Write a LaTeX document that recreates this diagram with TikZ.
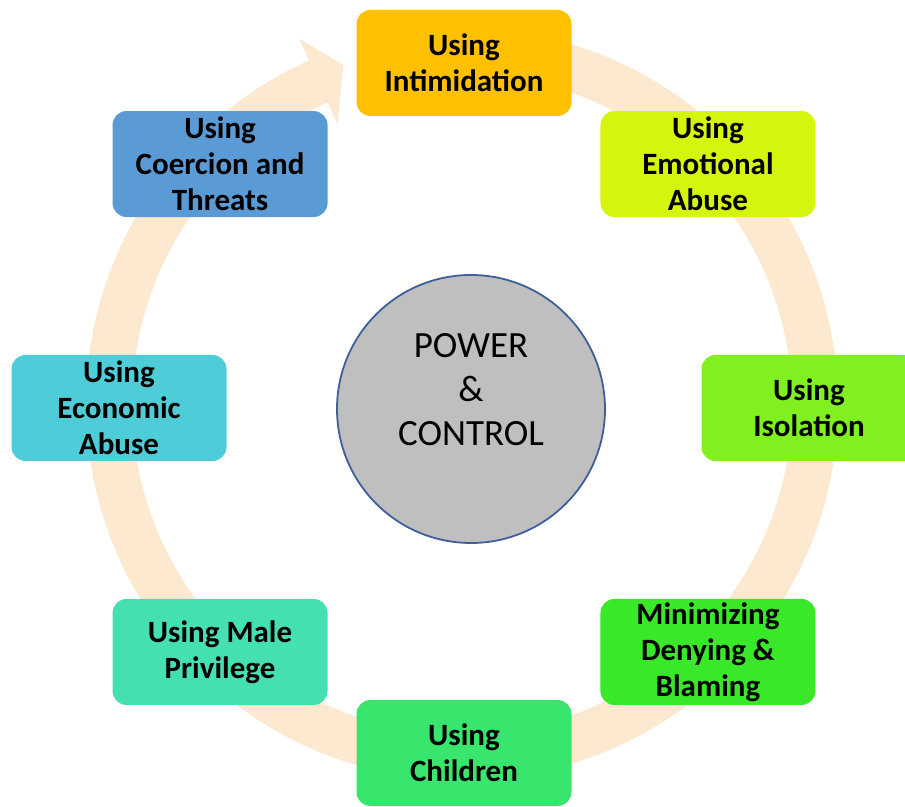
\documentclass[tikz,border=0pt]{standalone}
\usepackage{fontspec}
\setmainfont{Carlito}
\usetikzlibrary{calc}
\definecolor{ringpeach}{RGB}{253,232,208}
\definecolor{coregray}{RGB}{191,191,191}
\definecolor{coreblue}{RGB}{63,95,154}
\definecolor{cIntim}{RGB}{255,192,0}
\definecolor{cEmot}{RGB}{214,245,13}
\definecolor{cIsol}{RGB}{128,240,32}
\definecolor{cMinim}{RGB}{58,232,42}
\definecolor{cChild}{RGB}{56,230,110}
\definecolor{cMale}{RGB}{69,224,178}
\definecolor{cEcon}{RGB}{78,205,217}
\definecolor{cCoerc}{RGB}{91,155,213}

\begin{document}
\begin{tikzpicture}[x=1pt, y=1pt,
  box/.style={rectangle, rounded corners=14pt, minimum width=215pt, minimum height=106pt, inner sep=2pt, align=center, font=\bfseries\fontsize{31}{36}\selectfont},
  core/.style={circle, draw=coreblue, line width=1.8pt, fill=coregray, minimum size=268pt, inner sep=0pt, font=\fontsize{37}{44}\selectfont}
]
\useasboundingbox (0,0) rectangle (905,806);
\coordinate (o) at (464,398);
\coordinate (rc) at (462,402);
% cycle arrow behind the boxes
\fill[ringpeach] ($(rc)+(95:376pt)$) arc[start angle=95, end angle=-246, radius=376pt]
  -- ($(rc)+(-246:400pt)$) -- ($(rc)+(-250.7:359pt)$) -- ($(rc)+(-246:306pt)$)
  -- ($(rc)+(-246:330pt)$) arc[start angle=-246, end angle=95, radius=330pt] -- cycle;
\node[core] (pc) at (471,397) {\raisebox{16pt}[\height][\depth]{\begin{tabular}{@{}c@{}}POWER\\\&\\CONTROL\end{tabular}}};
\node[box, fill=cIntim] (b1) at ([shift={(90:345pt)}]o) {Using\\Intimidation};
\node[box, fill=cEmot] (b2) at ([shift={(45:345pt)}]o) {Using\\Emotional\\Abuse};
\node[box, fill=cIsol] (b3) at ([shift={(0:345pt)}]o) {Using\\Isolation};
\node[box, fill=cMinim] (b4) at ([shift={(-45:345pt)}]o) {Minimizing\\Denying \&\\Blaming};
\node[box, fill=cChild] (b5) at ([shift={(-90:345pt)}]o) {Using\\Children};
\node[box, fill=cMale] (b6) at ([shift={(-135:345pt)}]o) {Using Male\\Privilege};
\node[box, fill=cEcon] (b7) at ([shift={(180:345pt)}]o) {Using\\Economic\\Abuse};
\node[box, fill=cCoerc] (b8) at ([shift={(135:345pt)}]o) {Using\\Coercion and\\Threats};
\end{tikzpicture}
\end{document}
